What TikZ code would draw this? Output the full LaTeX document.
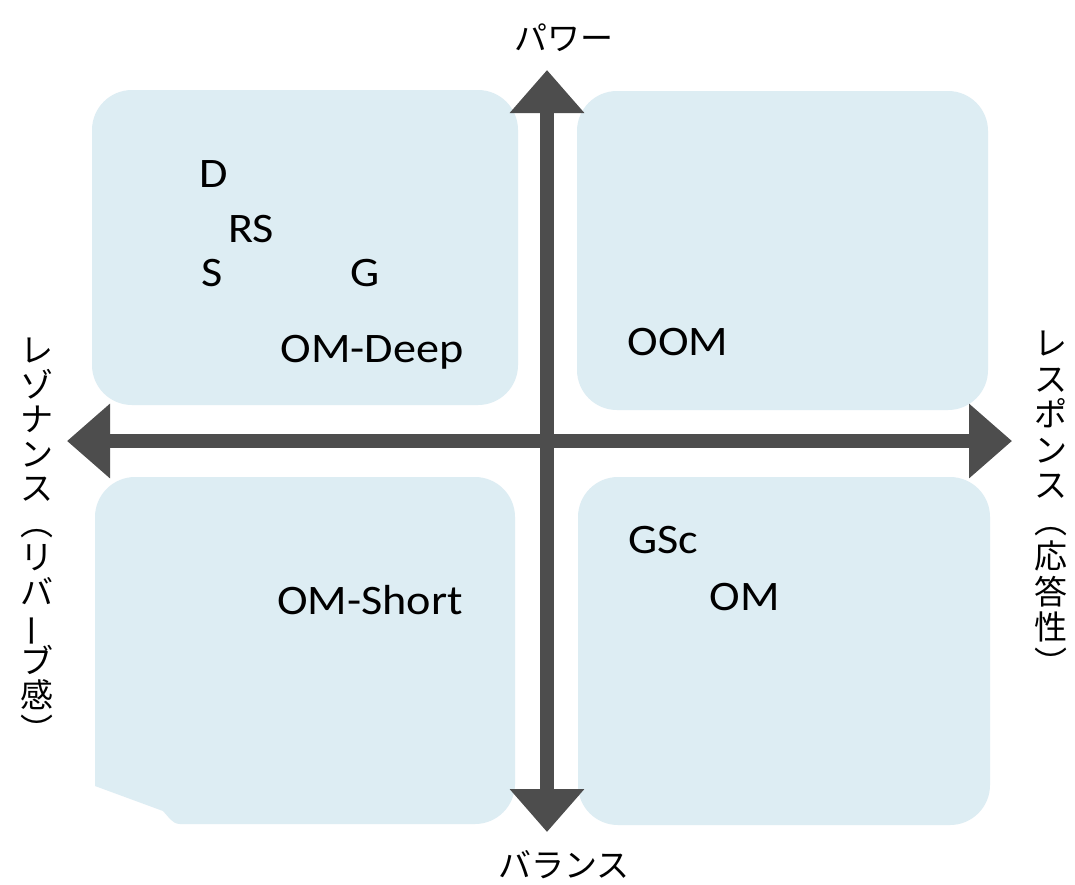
\documentclass[tikz,border=0pt]{standalone}
\usepackage{fontspec}
\usepackage{graphicx}
\usetikzlibrary{arrows.meta}
\newfontfamily\lat[FakeStretch=1.1]{Carlito}
\newfontfamily\jp{Noto Sans CJK JP}
\definecolor{boxblue}{RGB}{221,237,243}
\definecolor{axisgray}{RGB}{77,77,77}
\newcommand{\vbarmark}{\rotatebox[origin=c]{90}{ー}}
\newcommand{\vlparen}{︵}
\newcommand{\vrparen}{︶}
\tikzset{
  quad/.style={fill=boxblue, rounded corners=40pt},
  axisboth/.style={draw=axisgray, line width=14pt, {Triangle[width=72pt,length=43pt]}-{Triangle[width=72pt,length=43pt]}},
  lbl/.style={inner sep=0pt, anchor=base, font=\lat\fontsize{42}{50}\selectfont, text=black},
  jlbl/.style={inner sep=0pt, font=\jp\fontsize{33}{36}\selectfont, text=black},
  vch/.style={inner sep=0pt, font=\jp\fontsize{33}{36}\selectfont, text=black, text height=29pt, text depth=4pt},
}
\begin{document}
\begin{tikzpicture}[x=1pt, y=-1pt]
\useasboundingbox[fill=white] (0,0) rectangle (1075,884);
% quadrants
\fill[quad] (92,90) rectangle (518,405);
\fill[quad] (577,91) rectangle (988,410);
\fill[quad] (578,477) rectangle (990,825);
\fill[boxblue] (95,517) .. controls (95,495) and (113,477) .. (135,477) -- (475,477)
  .. controls (497,477) and (515,495) .. (515,517) -- (515,784)
  .. controls (515,806) and (497,824) .. (475,824) -- (180,824)
  .. controls (172,824) and (168,816) .. (163,811) -- (95,786) -- cycle;
% axes
\coordinate (T) at (547,70);
\coordinate (B) at (547,832);
\coordinate (Lt) at (67,441);
\coordinate (Rt) at (1012,441);
\draw[axisboth] (Lt) -- (Rt);
\draw[axisboth] (B) -- (T);
% labels
\node[lbl] (d) at (214,187) {D};
\node[lbl] (rs) at (251,242) {RS};
\node[lbl] (s) at (212,286) {S};
\node[lbl] (g) at (365,286) {G};
\node[lbl] (omdeep) at (372,362) {OM-Deep};
\node[lbl] (oom) at (678,355) {OOM};
\node[lbl] (omshort) at (370,614) {OM-Short};
\node[lbl] (gsc) at (663,553) {GSc};
\node[lbl] (om) at (745,610) {OM};
% axis titles
\node[jlbl] (power) at (564,38) {パワー};
\node[jlbl] (balance) at (564,865) {バランス};
\foreach \c [count=\i] in {レ,ゾ,ナ,ン,ス,\vlparen,リ,バ,\vbarmark,ブ,感,\vrparen}
  \node[vch] (L\i) at (37,{350+34.5*(\i-1)}) {\c};
\foreach \c [count=\i] in {レ,ス,ポ,ン,ス,\vlparen,応,答,性,\vrparen}
  \node[vch] (R\i) at (1051,{343+35.5*(\i-1)}) {\c};
\end{tikzpicture}
\end{document}
